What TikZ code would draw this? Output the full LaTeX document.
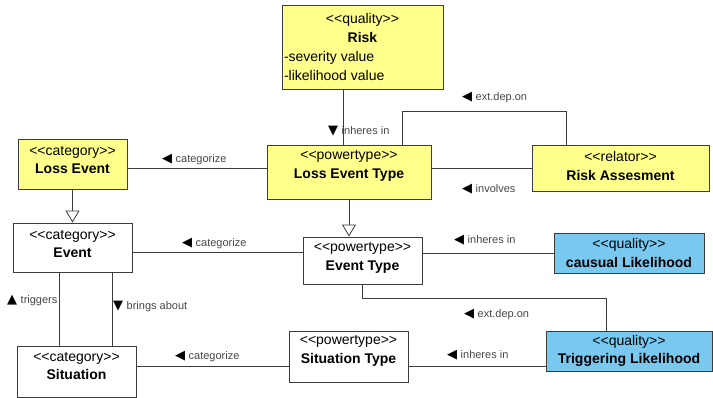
\documentclass[tikz,border=0pt]{standalone}
\usepackage{fontspec}
\newfontfamily\umlfont{Liberation Sans}
\newfontfamily\symfont{DejaVu Sans}
\usetikzlibrary{arrows.meta}

\definecolor{qualfill}{RGB}{255,255,140}
\definecolor{likefill}{RGB}{120,200,240}
\definecolor{edgegray}{RGB}{60,60,60}
\definecolor{labelgray}{RGB}{70,70,70}

\newcommand{\lefttri}{{\color{black}\symfont\fontsize{13}{13}\selectfont ◀}\hspace{3.5pt}}
\newcommand{\downtri}{{\color{black}\symfont\fontsize{13}{13}\selectfont ▼}\hspace{3.5pt}}
\newcommand{\uptri}{{\color{black}\symfont\fontsize{13}{13}\selectfont ▲}\hspace{3.5pt}}

\tikzset{
  umlbox/.style={draw=edgegray, line width=0.9pt, fill=white, inner sep=0pt},
  yellowbox/.style={umlbox, fill=qualfill},
  bluebox/.style={umlbox, fill=likefill},
  boxtext/.style={font=\umlfont\fontsize{14}{18.5}\selectfont, align=center, inner sep=0pt},
  assoc/.style={draw=edgegray, line width=0.8pt},
  genarrow/.style={assoc, -{Triangle[open, length=12pt, width=14pt, fill=white]}},
  roletext/.style={font=\umlfont\fontsize{11}{12}\selectfont, text=labelgray, anchor=west, inner sep=0pt},
}

\begin{document}
\begin{tikzpicture}[x=1pt, y=-1pt]
  \useasboundingbox (0,0) rectangle (713,398);

  % risk quality with its attributes
  \node[yellowbox, minimum width=161pt, minimum height=84pt] (risk) at (362.5,47) {};
  \node[boxtext, align=left, font=\umlfont\fontsize{14}{19}\selectfont] (risktxt) at (362.5,47)
    {\makebox[157pt]{<<quality>>}\\\makebox[157pt]{\textbf{Risk}}\\-severity value\\-likelihood value};

  % upper row
  \node[yellowbox, minimum width=109pt, minimum height=50pt] (lossevent) at (72.5,164) {};
  \node[boxtext] (losseventtxt) at (72.5,160) {<<category>>\\\textbf{Loss Event}};
  \node[yellowbox, minimum width=164pt, minimum height=54pt] (losstype) at (349,172) {};
  \node[boxtext] (losstypetxt) at (349,166) {<<powertype>>\\\textbf{Loss Event Type}};
  \node[yellowbox, minimum width=177pt, minimum height=46pt] (riskass) at (620.5,168) {};
  \node[boxtext] (riskasstxt) at (620.5,166) {<<relator>>\\\textbf{Risk Assesment}};

  % middle row
  \node[umlbox, minimum width=119pt, minimum height=49pt] (event) at (72.5,247.5) {};
  \node[boxtext] (eventtxt) at (72.5,244) {<<category>>\\\textbf{Event}};
  \node[umlbox, minimum width=119pt, minimum height=47pt] (eventtype) at (362.5,260.5) {};
  \node[boxtext] (eventtypetxt) at (362.5,258) {<<powertype>>\\\textbf{Event Type}};
  \node[bluebox, minimum width=150pt, minimum height=40pt] (causal) at (629,253) {};
  \node[boxtext] (causaltxt) at (629,253) {<<quality>>\\\textbf{causual Likelihood}};

  % lower row
  \node[umlbox, minimum width=119pt, minimum height=51pt] (situation) at (76.5,371.5) {};
  \node[boxtext] (situationtxt) at (76.5,366) {<<category>>\\\textbf{Situation}};
  \node[umlbox, minimum width=119pt, minimum height=51pt] (sittype) at (348.5,356.5) {};
  \node[boxtext] (sittypetxt) at (348.5,351) {<<powertype>>\\\textbf{Situation Type}};
  \node[bluebox, minimum width=166pt, minimum height=40pt] (trigger) at (629,351) {};
  \node[boxtext] (triggertxt) at (629,351) {<<quality>>\\\textbf{Triggering Likelihood}};

  % associations
  \draw[assoc] (343,0 |- risk.south) -- (343,0 |- losstype.north);
  \draw[assoc] (402,0 |- losstype.north) |- (566,111) -- (566,0 |- riskass.north);
  \draw[assoc] (losstype.east |- riskass.west) -- (riskass.west);
  \draw[assoc] (lossevent.east |- 0,168) -- (losstype.west |- 0,168);
  \draw[assoc] (event.east |- 0,252) -- (eventtype.west |- 0,252);
  \draw[assoc] (eventtype.east |- causal.west) -- (causal.west);
  \draw[assoc] (eventtype.south) |- (606,298) -- (606,0 |- trigger.north);
  \draw[assoc] (59,0 |- event.south) -- (59,0 |- situation.north);
  \draw[assoc] (112,0 |- event.south) -- (112,0 |- situation.north);
  \draw[assoc] (situation.east |- 0,366) -- (sittype.west |- 0,366);
  \draw[assoc] (sittype.east |- 0,366) -- (trigger.west |- 0,366);

  % generalizations
  \draw[genarrow] (lossevent.south) -- (lossevent.south |- event.north);
  \draw[genarrow] (losstype.south) -- (losstype.south |- eventtype.north);

  % role labels
  \node[roletext] (lblinh1) at (328,131) {\downtri inheres in};
  \node[roletext] (lblext1) at (462,97) {\lefttri ext.dep.on};
  \node[roletext] (lblcat1) at (162,159) {\lefttri categorize};
  \node[roletext] (lblinv) at (462,189) {\lefttri involves};
  \node[roletext] (lblcat2) at (182,243) {\lefttri categorize};
  \node[roletext] (lblinh2) at (454,240) {\lefttri inheres in};
  \node[roletext] (lbltrig) at (7,300) {\uptri triggers};
  \node[roletext] (lblbring) at (113,306) {\downtri brings about};
  \node[roletext] (lblext2) at (464,314) {\lefttri ext.dep.on};
  \node[roletext] (lblcat3) at (175,356) {\lefttri categorize};
  \node[roletext] (lblinh3) at (447,355) {\lefttri inheres in};

\end{tikzpicture}
\end{document}
